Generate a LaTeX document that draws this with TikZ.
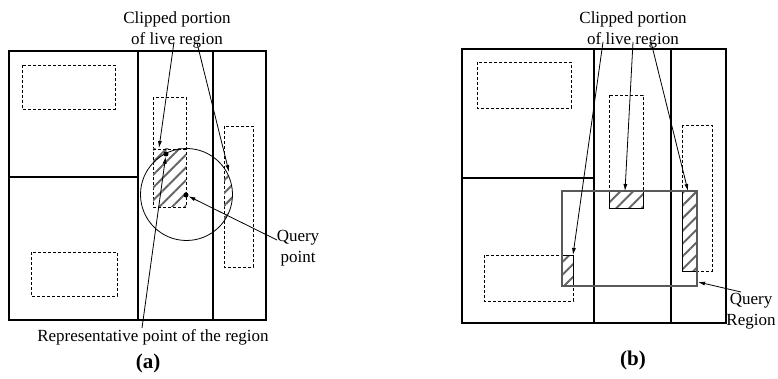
\documentclass[tikz,border=0pt]{standalone}
\usepackage{fontspec}
\setmainfont{Liberation Serif}
\usetikzlibrary{arrows.meta,patterns.meta}

\begin{document}
\begin{tikzpicture}[x=1pt,y=-1pt,
  frame/.style={line width=1.8pt},
  divider/.style={line width=1.2pt},
  liveregion/.style={line width=0.7pt, dash pattern=on 3pt off 2pt},
  hatch/.style={pattern={Lines[angle=45,distance=9pt,line width=2pt]},pattern color=black!60},
  pointer/.style={-{Latex[length=7pt,width=4pt]}, line width=0.8pt},
  lbl/.style={font=\fontsize{17}{20.5}\selectfont, align=center, inner sep=0pt},
  caption/.style={font=\fontsize{21}{24}\selectfont\bfseries, inner sep=0pt},
  dot/.style={circle, fill=black, inner sep=0pt, minimum size=5pt},
]
\useasboundingbox (0,0) rectangle (778,379);

% ---------------- (a) circular query ----------------
\draw[frame] (9,51) rectangle (266,320);
\draw[divider] (138,51) -- (138,320);
\draw[divider] (213,51) -- (213,320);
\draw[divider] (9,177) -- (138,177);

% live regions
\draw[liveregion] (22,65) rectangle (115,109);
\draw[liveregion] (31,252) rectangle (117,296);
\draw[liveregion] (153,97) rectangle (186,207);
\draw[liveregion] (224,126) rectangle (253,267);

% clipped parts inside the query circle
\fill[hatch] (153,149) rectangle (186,207);
\draw[liveregion] (153,149) -- (186,149);
\begin{scope}
  \clip (186.5,194.5) circle[radius=46];
  \fill[hatch] (224,126) rectangle (253,267);
\end{scope}
\draw[line width=0.8pt] (186.5,194.5) circle[radius=46];

\node[dot] (rep) at (166,154) {};
\node[dot] (qpt) at (186,195) {};

\node[lbl] (clipA) at (177,30) {Clipped portion\\of live region};
\coordinate (clipA1) at (174,42);
\coordinate (clipA2) at (197,43);
\coordinate (hatchA1) at (159,148);
\coordinate (hatchA2) at (229,172);
\draw[pointer] (clipA1) -- (hatchA1);
\draw[pointer] (clipA2) -- (hatchA2);

\node[lbl] (qptlbl) at (298,248) {Query\\point};
\coordinate (qptfrom) at (277,240);
\draw[pointer] (qptfrom) -- (qpt);

\node[lbl] (replbl) at (153,337) {Representative point of the region};
\coordinate (repfrom) at (142,328);
\draw[pointer] (repfrom) -- (rep);

\node[caption] (capA) at (148,363) {(a)};

% ---------------- (b) range query ----------------
\draw[frame] (462,49) rectangle (726,323);
\draw[divider] (594,49) -- (594,323);
\draw[divider] (671,49) -- (671,323);
\draw[divider] (462,178) -- (594,178);

\draw[liveregion] (477,62) rectangle (571,108);
\draw[liveregion] (609,95) rectangle (643,208);
\draw[liveregion] (682,125) rectangle (712,271);
\draw[liveregion] (484,255) rectangle (573,301);

\fill[hatch] (609,191) rectangle (643,208);
\fill[hatch] (682,191) rectangle (697,271);
\fill[hatch] (562,255) rectangle (573,286);
\draw[line width=0.8pt] (609,191) rectangle (643,208);
\draw[line width=0.8pt] (682,191) rectangle (697,271);
\draw[line width=0.8pt] (562,255) rectangle (573,286);

\draw[line width=1.2pt, black!65] (562,191) rectangle (697,286);
\coordinate (qregcorner) at (698,282);

\node[lbl] (clipB) at (633,30) {Clipped portion\\of live region};
\coordinate (clipB1) at (603,42);
\coordinate (clipB2) at (633,42);
\coordinate (clipB3) at (651,42);
\coordinate (hatchB1) at (573,255);
\coordinate (hatchB2) at (625,191);
\coordinate (hatchB3) at (688,191);
\draw[pointer] (clipB1) -- (hatchB1);
\draw[pointer] (clipB2) -- (hatchB2);
\draw[pointer] (clipB3) -- (hatchB3);

\node[lbl] (qreglbl) at (751,311) {Query\\Region};
\coordinate (qregfrom) at (741,292);
\draw[pointer] (qregfrom) -- (qregcorner);

\node[caption] (capB) at (633,360) {(b)};
\end{tikzpicture}
\end{document}
